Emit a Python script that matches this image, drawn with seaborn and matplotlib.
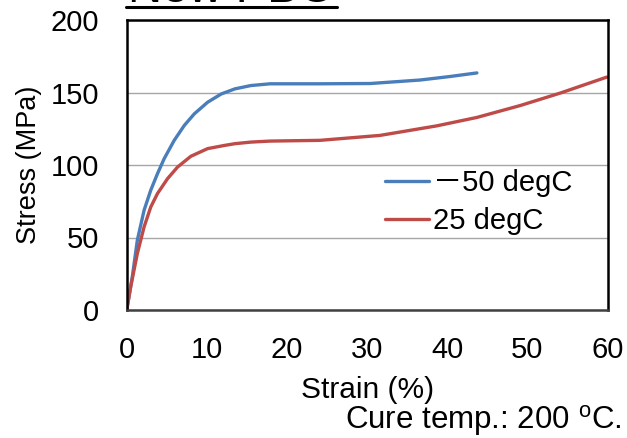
import matplotlib
matplotlib.use("Agg")
import matplotlib.pyplot as plt
import numpy as np
import pandas as pd
import seaborn as sns
from matplotlib.lines import Line2D

# ---- data ----
strain_m50 = [0, 0.7, 1.33, 2.17, 3.0, 3.84, 4.68, 5.93, 7.19, 8.44, 10.1, 11.8, 13.5,
              15.5, 17.9, 24.0, 30.4, 36.6, 40.3, 43.7]
stress_m50 = [0, 22.9, 48.2, 68.8, 82.6, 94.0, 104.4, 117.0, 127.3, 135.3, 143.3, 149.0, 152.5,
              154.8, 156.0, 156.0, 156.2, 158.6, 161.0, 163.5]
strain_25 = [0, 0.5, 1.33, 2.17, 3.0, 3.84, 5.1, 6.35, 8.0, 10.1, 12.2, 13.5,
             15.5, 17.9, 24.1, 31.6, 38.7, 43.7, 49.1, 54.1, 59.9]
stress_25 = [0, 16.0, 39.0, 57.3, 71.0, 80.3, 90.6, 98.6, 106.0, 111.3, 113.5, 114.7,
             115.8, 116.5, 117.0, 120.4, 127.0, 132.8, 141.0, 149.6, 160.6]
series_labels = ["\uff0d50 degC", "25 degC"]
x_ticks = [0, 10, 20, 30, 40, 50, 60]
y_ticks = [0, 50, 100, 150, 200]
title_text = "New PBO"
note_text = "Cure temp.: 200 $^{\\mathrm{o}}$C."

# ---- style ----
sns.set_style("white")
plt.rcParams["font.family"] = ["Liberation Sans", "Noto Sans CJK JP"]
plt.rcParams["mathtext.fontset"] = "custom"
plt.rcParams["mathtext.rm"] = "Liberation Sans"
plt.rcParams["mathtext.it"] = "Liberation Sans"
plt.rcParams["text.color"] = "black"
plt.rcParams["axes.labelcolor"] = "black"
plt.rcParams["xtick.labelcolor"] = "black"
plt.rcParams["ytick.labelcolor"] = "black"

colors = ["#4A7EBB", "#BE4B48"]

df = pd.concat([
    pd.DataFrame({"strain": strain_m50, "stress": stress_m50, "series": series_labels[0]}),
    pd.DataFrame({"strain": strain_25, "stress": stress_25, "series": series_labels[1]}),
], ignore_index=True)

fig = plt.figure(figsize=(6.27, 4.38), dpi=100)
ax = fig.add_axes([126.7 / 627, (438 - 310) / 438, (607.5 - 126.7) / 627, 290 / 438])

sns.lineplot(data=df, x="strain", y="stress", hue="series", hue_order=series_labels,
             palette=colors, sort=False, estimator=None, linewidth=2.4, ax=ax)

ax.set_xlim(0, 60)
ax.set_ylim(0, 200)
ax.set_xticks(x_ticks)
ax.set_yticks(y_ticks)
ax.tick_params(axis="x", direction="in", length=4.5, width=1, color="#A0A0A0",
               labelsize=21, pad=19)
ax.tick_params(axis="y", length=0, labelsize=21, pad=20)
ax.yaxis.grid(True, color="#A6A6A6", linewidth=1.0)
ax.xaxis.grid(False)
for name, sp in ax.spines.items():
    sp.set_visible(True)
    sp.set_linewidth(1.8)
    sp.set_color("black")
ax.spines["bottom"].set_color("#404040")

ax.set_xlabel("Strain (%)", fontsize=21.5, labelpad=8)
ax.set_ylabel("Stress (MPa)", fontsize=19.5, labelpad=6)

handles, labels = ax.get_legend_handles_labels()
ax.legend(handles, labels, loc="center left", bbox_to_anchor=(0.537, 0.372),
          frameon=False, fontsize=21, handlelength=1.5, handletextpad=0.15,
          labelspacing=0.32, borderpad=0, borderaxespad=0)

# cut-off title at the top, underlined
fig.text(128 / 627, 1 - 1.5 / 438, title_text, fontsize=34, ha="left", va="baseline")
fig.add_artist(Line2D([126 / 627, 337 / 627], [1 - 6.5 / 438, 1 - 6.5 / 438],
                      transform=fig.transFigure, color="black", linewidth=2.2))

fig.text(622 / 627, 1 - 420 / 438, note_text, fontsize=22.5, ha="right", va="center")

fig.savefig("out.png", dpi=100)
